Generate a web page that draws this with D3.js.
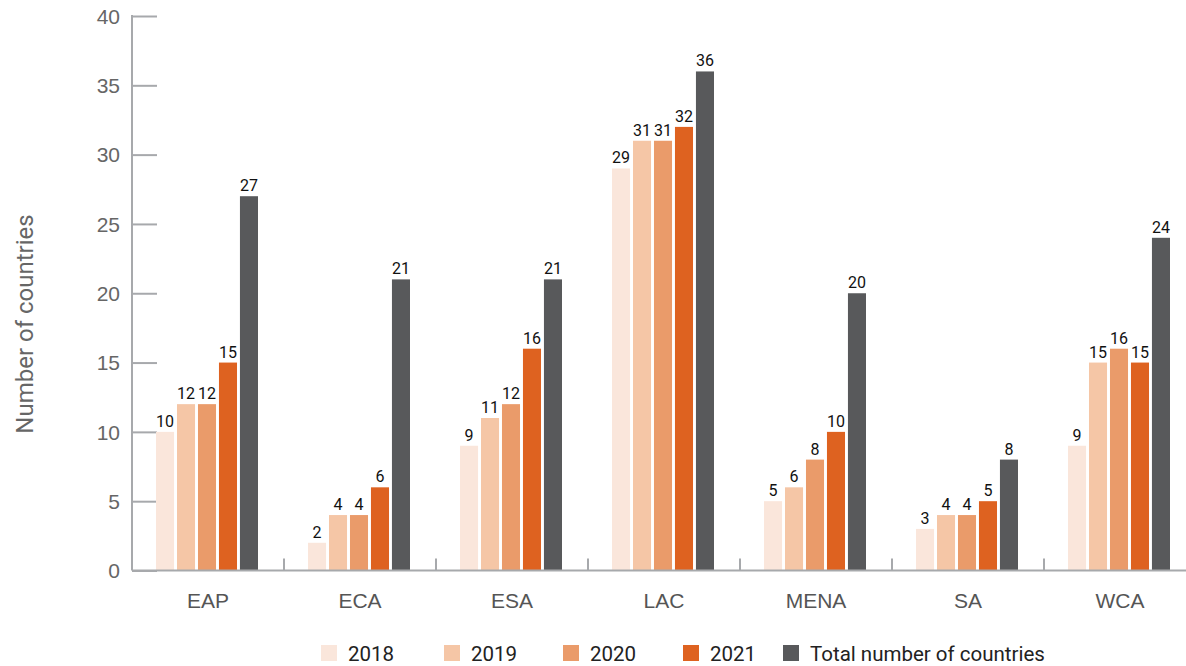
<!DOCTYPE html>
<html>
<head>
<meta charset="utf-8">
<script src="https://cdn.jsdelivr.net/npm/d3@7"></script>
<style>
  html, body { margin: 0; padding: 0; background: #ffffff; }
  svg { display: block; font-family: Roboto, "Liberation Sans", Arial, sans-serif; }
</style>
</head>
<body>
<svg id="chart" width="1186" height="666"></svg>
<script>
// ---- data ----
const categories = ["EAP", "ECA", "ESA", "LAC", "MENA", "SA", "WCA"];
const seriesNames = ["2018", "2019", "2020", "2021", "Total number of countries"];
const values2018 = [10, 2, 9, 29, 5, 3, 9];
const values2019 = [12, 4, 11, 31, 6, 4, 15];
const values2020 = [12, 4, 12, 31, 8, 4, 16];
const values2021 = [15, 6, 16, 32, 10, 5, 15];
const valuesTotal = [27, 21, 21, 36, 20, 8, 24];
const yTicks = [0, 5, 10, 15, 20, 25, 30, 35, 40];
const yTitle = "Number of countries";

const seriesValues = [values2018, values2019, values2020, values2021, valuesTotal];
const colors = ["#fae6db", "#f5c6a6", "#ea9b6a", "#de6220", "#58595b"];

// ---- layout ----
const svg = d3.select("#chart");
const axisX = 132;
const bandW = 152;
const yBase = 570.5, yTop = 16;

const x0 = d3.scaleBand()
  .domain(categories)
  .range([axisX, axisX + bandW * categories.length])
  .paddingInner(0).paddingOuter(0);

const x1 = d3.scaleBand()
  .domain(seriesNames)
  .range([24, 126])
  .paddingInner(0.14)
  .paddingOuter(0);

const y = d3.scaleLinear().domain([0, 40]).range([yBase, yTop]);

const axisColor = "#a7a9ac";

// y axis with inward ticks
const yAxis = d3.axisRight(y).tickValues(yTicks).tickSize(25).tickFormat(d => d);
const gy = svg.append("g").attr("transform", `translate(${axisX},0)`).call(yAxis);
gy.select(".domain").remove();
gy.selectAll(".tick line").attr("stroke", axisColor).attr("stroke-width", 2);
gy.selectAll(".tick text")
  .attr("x", -12)
  .attr("dy", "0.35em")
  .attr("text-anchor", "end")
  .attr("fill", "#666666")
  .style("font-size", "21px");

svg.append("line")
  .attr("x1", axisX).attr("x2", axisX)
  .attr("y1", y(40) - 1).attr("y2", yBase)
  .attr("stroke", axisColor).attr("stroke-width", 2);

// category separators
categories.slice(1).forEach(c => {
  const xs = x0(c);
  svg.append("line")
    .attr("x1", xs).attr("x2", xs)
    .attr("y1", yBase - 12).attr("y2", yBase)
    .attr("stroke", axisColor).attr("stroke-width", 2);
});

// bars
const groups = svg.append("g").selectAll("g")
  .data(categories)
  .join("g")
  .attr("transform", d => `translate(${x0(d)},0)`);

groups.each(function(cat, ci) {
  const g = d3.select(this);
  seriesNames.forEach((s, si) => {
    const v = seriesValues[si][ci];
    g.append("rect")
      .attr("x", x1(s))
      .attr("y", y(v))
      .attr("width", x1.bandwidth())
      .attr("height", yBase - y(v))
      .attr("fill", colors[si]);
    g.append("text")
      .attr("x", x1(s) + x1.bandwidth() / 2)
      .attr("y", y(v) - 5)
      .attr("text-anchor", "middle")
      .attr("fill", "#111111")
      .style("font-size", "16px")
      .text(v);
  });
});

// baseline
svg.append("line")
  .attr("x1", axisX).attr("x2", 1186)
  .attr("y1", yBase).attr("y2", yBase)
  .attr("stroke", axisColor).attr("stroke-width", 2);

// x labels
const xAxis = d3.axisBottom(x0).tickSize(0).tickPadding(0);
const gx = svg.append("g").attr("transform", `translate(0,${yBase})`).call(xAxis);
gx.select(".domain").remove();
gx.selectAll(".tick text")
  .attr("y", 37)
  .attr("dy", 0)
  .attr("fill", "#555555")
  .style("font-size", "21px");

// y title
svg.append("text")
  .attr("transform", `translate(33,324) rotate(-90)`)
  .attr("text-anchor", "middle")
  .attr("fill", "#666666")
  .style("font-size", "24px")
  .text(yTitle);

// legend
const legendX = [321, 444, 563, 683, 783];
const leg = svg.append("g");
seriesNames.forEach((s, i) => {
  leg.append("rect")
    .attr("x", legendX[i]).attr("y", 645)
    .attr("width", 16).attr("height", 16)
    .attr("fill", colors[i]);
  leg.append("text")
    .attr("x", legendX[i] + 27).attr("y", 661)
    .attr("fill", "#222222")
    .style("font-size", "20.5px")
    .text(s);
});
</script>
</body>
</html>
